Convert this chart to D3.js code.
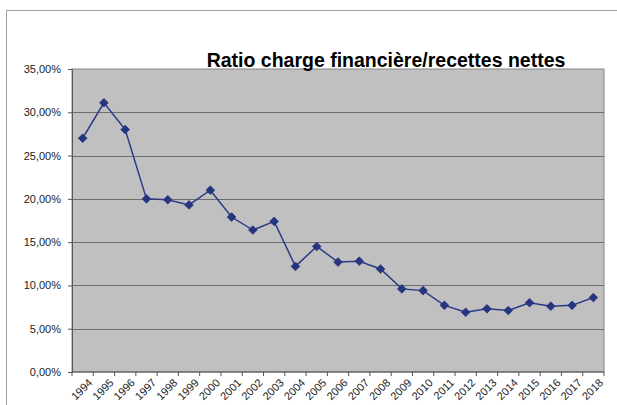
<!DOCTYPE html>
<html>
<head>
<meta charset="utf-8">
<script src="https://d3js.org/d3.v7.min.js"></script>
<style>
body { margin: 0; background: #fff; }
text { font-family: "Liberation Sans", Arial, sans-serif; }
</style>
</head>
<body>
<script>
var years = ["1994","1995","1996","1997","1998","1999","2000","2001","2002","2003","2004","2005","2006",
    "2007","2008","2009","2010","2011","2012","2013","2014","2015","2016","2017","2018"];
var ratio = [27.0, 31.1, 28.0, 20.0, 19.9, 19.3, 21.0, 17.9, 16.4, 17.4, 12.2, 14.5, 12.7,
    12.8, 11.9, 9.6, 9.4, 7.7, 6.9, 7.3, 7.1, 8.0, 7.6, 7.7, 8.6];
var yTicks = [0, 5, 10, 15, 20, 25, 30, 35];
var title = "Ratio charge financière/recettes nettes";

var width = 617, height = 405;
var margin = {left: 72, top: 69, right: 13, bottom: 33};

var svg = d3.select("body").append("svg")
    .attr("width", width)
    .attr("height", height);

// outer frame
svg.append("rect")
    .attr("x", 6.5).attr("y", 10.5)
    .attr("width", 640).attr("height", 420)
    .attr("fill", "none")
    .attr("stroke", "#a0a0a0");

var x = d3.scaleBand().domain(years).range([margin.left, width - margin.right]);
var y = d3.scaleLinear().domain([0, 35]).range([height - margin.bottom, margin.top]);

svg.append("rect")
    .attr("x", margin.left).attr("y", margin.top)
    .attr("width", width - margin.right - margin.left)
    .attr("height", height - margin.bottom - margin.top)
    .attr("fill", "#c0c0c0")
    .attr("stroke", "#858585");

// grid
svg.append("g")
    .selectAll("line")
    .data(yTicks.slice(1, -1))
    .join("line")
    .attr("x1", margin.left).attr("x2", width - margin.right)
    .attr("y1", d => Math.round(y(d)) + 0.5).attr("y2", d => Math.round(y(d)) + 0.5)
    .attr("stroke", "#6e6e6e")
    .attr("stroke-width", 1.2);

// y axis
var yAxis = svg.append("g")
    .attr("transform", "translate(" + margin.left + ",0)")
    .call(d3.axisLeft(y).tickValues(yTicks).tickSize(4).tickPadding(7)
        .tickFormat(d => d3.format(".2f")(d).replace(".", ",") + "%"));
yAxis.select(".domain").attr("stroke", "#555");
yAxis.selectAll(".tick line").attr("stroke", "#555");
yAxis.selectAll("text")
    .attr("font-size", 11)
    .attr("fill", "#222")
    .style("font-family", "'Liberation Sans', Arial, sans-serif");

// x axis: ticks between categories
var xg = svg.append("g")
    .attr("transform", "translate(0," + (height - margin.bottom) + ")");
xg.append("line")
    .attr("x1", margin.left).attr("x2", width - margin.right)
    .attr("stroke", "#555");
xg.selectAll(".tk")
    .data(years.concat(["end"]))
    .join("line")
    .attr("x1", (d, i) => margin.left + i * x.step())
    .attr("x2", (d, i) => margin.left + i * x.step())
    .attr("y1", 0).attr("y2", 4)
    .attr("stroke", "#555");
xg.selectAll("text")
    .data(years)
    .join("text")
    .attr("transform", d => "translate(" + (x(d) + x.bandwidth() / 2 + 5) + ",6) rotate(-45)")
    .attr("text-anchor", "end")
    .attr("dy", "0.7em")
    .attr("font-size", 11)
    .attr("fill", "#222")
    .text(d => d);

// line
var line = d3.line()
    .x((d, i) => x(years[i]) + x.bandwidth() / 2)
    .y(d => y(d));

svg.append("path")
    .datum(ratio)
    .attr("d", line)
    .attr("fill", "none")
    .attr("stroke", "#2b3a86")
    .attr("stroke-width", 1.5);

svg.append("g")
    .selectAll("path")
    .data(ratio)
    .join("path")
    .attr("transform", (d, i) => "translate(" + (x(years[i]) + x.bandwidth() / 2) + "," + y(d) + ")")
    .attr("d", d3.symbol(d3.symbolDiamond2, 48))
    .attr("fill", "#26357f")
    .attr("stroke", "#26357f")
    .attr("stroke-width", 0.8);

svg.append("text")
    .attr("x", 386).attr("y", 67)
    .attr("text-anchor", "middle")
    .attr("font-size", 19.5)
    .attr("font-weight", "bold")
    .attr("fill", "#000")
    .text(title);
</script>
</body>
</html>
